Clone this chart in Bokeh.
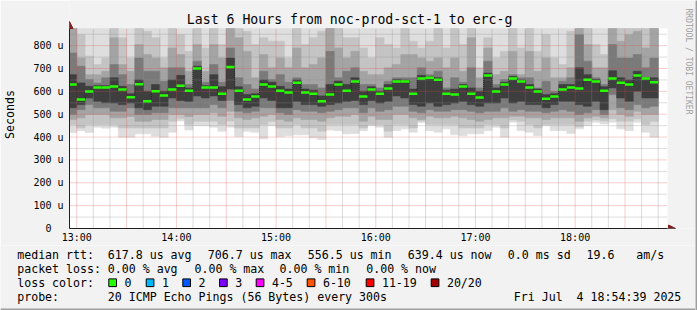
from datetime import datetime, timedelta, timezone
from math import pi

from bokeh.plotting import figure
from bokeh.layouts import column, row
from bokeh.models import Range1d, FixedTicker, Arrow, NormalHead, DatetimeTickFormatter
from bokeh.core.properties import value
from bokeh.embed import file_html
from bokeh.resources import INLINE

# ---------------- data ----------------
title_text = "Last 6 Hours from noc-prod-sct-1 to erc-g"
first_step = datetime(2025, 7, 4, 12, 55)      # start of the first 5-minute step
step_minutes = 5
hour_ticks = ["13:00", "14:00", "15:00", "16:00", "17:00", "18:00"]
y_ticks = [0, 100, 200, 300, 400, 500, 600, 700, 800]   # microseconds

median = [630, 564, 599, 617, 617, 621, 608, 574, 631, 557,
          600, 582, 608, 625, 603, 700, 617, 617, 590, 706.7,
          603, 564, 577, 630, 621, 603, 595, 638, 595, 590,
          556.5, 586, 630, 603, 643, 577, 608, 590, 612, 643,
          643, 590, 656, 660, 651, 590, 586, 621, 590, 573,
          669, 599, 630, 656, 643, 617, 599, 568, 577, 608,
          617, 612, 651, 643, 603, 656, 638, 630, 669, 656,
          639.4]

smoke_top = 900   # the slowest pings are above the top of the chart in every step

hi2 = [900, 848, 754, 717, 746, 900, 834, 746, 880, 863, 834, 746, 900, 848, 775, 900, 790, 880, 805, 900,
       880, 863, 805, 834, 819, 819, 746, 900, 805, 834, 863, 900, 880, 834, 834, 790, 746, 834, 805, 790,
       880, 819, 790, 819, 880, 790, 880, 805, 880, 703, 834, 746, 775, 880, 790, 880, 775, 848, 746, 717,
       863, 900, 880, 805, 761, 900, 900, 880, 880, 880, 880]
hi3 = [890, 746, 673, 673, 688, 834, 717, 688, 805, 761, 746, 703, 790, 761, 688, 805, 688, 805, 746, 900,
       834, 775, 659, 761, 703, 746, 703, 790, 703, 717, 746, 880, 790, 746, 775, 688, 673, 673, 703, 717,
       761, 761, 746, 732, 746, 703, 746, 688, 834, 659, 790, 673, 688, 775, 673, 775, 688, 746, 659, 659,
       703, 900, 805, 703, 703, 900, 819, 848, 863, 790, 880]
hi4 = [768, 710, 652, 637, 659, 717, 673, 630, 746, 688, 688, 644, 703, 703, 630, 732, 640, 717, 640, 790,
       659, 630, 610, 688, 652, 673, 640, 659, 630, 630, 615, 775, 659, 688, 703, 630, 630, 615, 644, 659,
       659, 659, 703, 673, 688, 615, 659, 640, 703, 615, 732, 630, 652, 673, 659, 659, 615, 644, 600, 644,
       659, 848, 732, 659, 630, 805, 746, 746, 761, 703, 746]
hi5 = [673, 637, 622, 625, 625, 659, 622, 590, 650, 600, 630, 600, 650, 670, 615, 710, 625, 673, 620, 746,
       620, 586, 590, 650, 640, 622, 610, 650, 610, 605, 580, 630, 645, 630, 659, 600, 620, 600, 630, 652,
       650, 610, 670, 665, 660, 605, 610, 630, 615, 600, 680, 615, 640, 665, 650, 630, 610, 586, 590, 630,
       630, 703, 673, 652, 620, 690, 659, 650, 688, 659, 659]
lo5 = [528, 542, 571, 557, 550, 549, 542, 549, 528, 520, 535, 535, 571, 560, 557, 580, 571, 580, 560, 610,
       542, 528, 535, 571, 560, 528, 528, 557, 542, 542, 535, 542, 549, 557, 560, 542, 560, 549, 557, 580,
       571, 542, 535, 549, 535, 542, 549, 557, 542, 535, 549, 549, 571, 549, 557, 542, 542, 528, 542, 557,
       557, 542, 535, 557, 520, 615, 571, 557, 600, 571, 571]
lo4 = [499, 520, 542, 528, 528, 513, 513, 528, 499, 499, 506, 506, 528, 528, 528, 528, 528, 542, 528, 560,
       513, 506, 513, 528, 528, 506, 499, 520, 513, 513, 506, 513, 520, 528, 528, 506, 528, 513, 520, 535,
       535, 513, 506, 520, 513, 513, 520, 520, 513, 506, 513, 513, 528, 513, 520, 513, 513, 506, 513, 520,
       513, 499, 506, 520, 499, 586, 528, 520, 542, 528, 535]
lo3 = [477, 484, 499, 499, 499, 484, 484, 490, 469, 469, 477, 477, 499, 499, 490, 499, 499, 506, 491, 513,
       484, 477, 484, 491, 499, 477, 469, 484, 477, 477, 469, 484, 491, 491, 499, 469, 491, 477, 477, 499,
       499, 484, 477, 491, 484, 484, 491, 484, 477, 469, 477, 484, 484, 491, 491, 484, 484, 477, 484, 484,
       484, 469, 484, 491, 484, 520, 499, 491, 513, 499, 499]
lo2 = [455, 440, 455, 455, 455, 455, 440, 440, 440, 440, 440, 440, 469, 480, 455, 469, 469, 469, 455, 470,
       440, 440, 440, 455, 469, 440, 440, 455, 440, 440, 426, 455, 455, 455, 455, 440, 455, 455, 426, 455,
       455, 440, 470, 455, 455, 455, 455, 440, 440, 440, 455, 455, 440, 475, 469, 455, 440, 455, 455, 455,
       455, 445, 469, 475, 470, 480, 469, 469, 480, 455, 469]
lo1 = [420, 428, 420, 443, 439, 443, 399, 399, 414, 414, 404, 399, 421, 470, 431, 450, 450, 443, 425, 443,
       402, 425, 421, 392, 450, 402, 406, 410, 410, 396, 389, 431, 428, 414, 416, 428, 450, 443, 399, 428,
       436, 421, 463, 428, 421, 436, 410, 406, 414, 414, 428, 443, 399, 465, 428, 421, 406, 450, 428, 428,
       416, 436, 450, 465, 457, 465, 436, 428, 465, 421, 399]

stat_median = ["617.8 us avg", "706.7 us max", "556.5 us min", "639.4 us now", "0.0 ms sd", "19.6", "am/s"]
stat_loss = ["0.00 % avg", "0.00 % max", "0.00 % min", "0.00 % now"]
loss_labels = ["0", "1", "2", "3", "4-5", "6-10", "11-19", "20/20"]
loss_colors = ["#26ff00", "#00b8ff", "#0059ff", "#7e00ff", "#ff00ff", "#ff5500", "#ff0000", "#a00000"]
probe_text = "20 ICMP Echo Pings (56 Bytes) every 300s"
stamp_text = "Fri Jul\u00a0 4 18:54:39 2025"

# ---------------- layout constants ----------------
W, H = 697, 310
EDGE = 2                                    # dark shade at the right / bottom
FL, FR, FT, FB = 67, 667, 28, 228          # chart canvas edges in pixels
MAIN_H = 245
Y_MAX = 875
FONT = "DejaVu Sans Mono"
BG = "#f2f2f2"


def ms(dt):
    return dt.replace(tzinfo=timezone.utc).timestamp() * 1000.0


X0 = ms(datetime(2025, 7, 4, 12, 55, 39))
X1 = X0 + 6 * 3600 * 1000.0


def px2x(px):
    return X0 + (px - FL) / (FR - FL) * (X1 - X0)


def py2y(py):
    return (FB - py) * Y_MAX / (FB - FT)


n = len(median)
col_start = [first_step + timedelta(minutes=step_minutes * i) for i in range(n)]
col_end = [t + timedelta(minutes=step_minutes) for t in col_start]

# ---------------- main chart ----------------
p = figure(width=W - EDGE, height=MAIN_H, output_backend="svg", toolbar_location=None,
           x_axis_type="datetime", x_range=Range1d(X0, px2x(W - EDGE)),
           y_range=Range1d(0, py2y(0)),
           min_border_left=FL, min_border_right=0, min_border_top=0,
           min_border_bottom=MAIN_H - FB)
p.background_fill_color = BG
p.border_fill_color = BG
p.outline_line_color = None
p.xgrid.visible = False
p.ygrid.visible = False

# white canvas
p.quad(left=[X0], right=[X1], bottom=[0], top=[Y_MAX], fill_color="#ffffff", line_color=None)

# smoke layers (outer = light, inner = dark)
layers = [([smoke_top] * n, lo1, "#dedede"), (hi2, lo2, "#c4c4c4"), (hi3, lo3, "#a4a4a4"),
          (hi4, lo4, "#7a7a7a"), (hi5, lo5, "#3e3e3e")]
for hi, lo, c in layers:
    p.quad(left=col_start, right=col_end, bottom=lo, top=[min(v, Y_MAX) for v in hi],
           fill_color=c, line_color=c, line_width=0.6)

# grid (dotted)
hour0 = datetime(2025, 7, 4, 13, 0)
v_minor = [ms(hour0 + timedelta(minutes=10 * k)) for k in range(-1, 36) if k % 3]
v_major = [ms(hour0 + timedelta(minutes=30 * k)) for k in range(0, 12)]
h_minor = [50 + 100 * k for k in range(9)]
h_major = y_ticks[1:]
for xs, c, a in [(v_minor, "#8f8f8f", 0.6), (v_major, "#de4f4f", 0.55)]:
    p.segment(x0=xs, x1=xs, y0=[0] * len(xs), y1=[Y_MAX] * len(xs),
              line_color=c, line_alpha=a, line_width=1, line_dash="1 1")
for ys, c, a in [(h_minor, "#8f8f8f", 0.6), (h_major, "#de4f4f", 0.55)]:
    p.segment(x0=[X0] * len(ys), x1=[X1] * len(ys), y0=ys, y1=ys,
              line_color=c, line_alpha=a, line_width=1, line_dash="1 1")

# median
p.step(x=col_start, y=median, mode="after", line_color="#202020", line_width=1, line_dash="1 1")
p.segment(x0=col_start, x1=col_end, y0=median, y1=median, line_color=loss_colors[0], line_width=2.5)

# axes
xa = p.xaxis[0]
xa.ticker = FixedTicker(ticks=[ms(hour0 + timedelta(hours=k)) for k in range(len(hour_ticks))])
fmt = "%H:%M"
xa.formatter = DatetimeTickFormatter(microseconds=fmt, milliseconds=fmt, seconds=fmt, minsec=fmt,
                                     minutes=fmt, hourmin=fmt, hours=fmt, days=fmt, months=fmt, years=fmt)
xa.bounds = (X0, X1)
xa.major_tick_out = 0
xa.major_tick_in = 0
xa.minor_tick_line_color = None
xa.axis_line_color = "#1f1f1f"
xa.major_label_standoff = 3
xa.major_label_text_font = FONT
xa.major_label_text_font_size = "10px"
xa.major_label_text_color = "#000000"

ya = p.yaxis[0]
ya.ticker = FixedTicker(ticks=y_ticks)
ya.bounds = (0, Y_MAX)
ya.major_label_overrides = {t: (f"{t} u" if t else "0\u00a0\u00a0") for t in y_ticks}
ya.major_tick_out = 0
ya.major_tick_in = 0
ya.minor_tick_line_color = None
ya.axis_line_color = "#1f1f1f"
ya.major_label_standoff = 6
ya.major_label_text_font = FONT
ya.major_label_text_font_size = "10px"
ya.major_label_text_color = "#000000"
ya.axis_label = "Seconds"
ya.axis_label_text_font = FONT
ya.axis_label_text_font_size = "11.6px"
ya.axis_label_text_font_style = "normal"
ya.axis_label_text_color = "#000000"
ya.axis_label_standoff = 13

# arrows at the ends of the axes
p.add_layout(Arrow(end=NormalHead(size=7, fill_color="#801f1f", line_color="#801f1f", line_width=1),
                   x_start=X1, y_start=0, x_end=px2x(FR + 8), y_end=0,
                   line_color="#1f1f1f", line_width=1))
p.add_layout(Arrow(end=NormalHead(size=7, fill_color="#801f1f", line_color="#801f1f", line_width=1),
                   x_start=X0, y_start=Y_MAX, x_end=X0, y_end=py2y(FT - 7),
                   line_color="#1f1f1f", line_width=1))

# title and watermark
p.text(x=[px2x(348)], y=[py2y(19)], text=[title_text], text_align="center", text_baseline="middle",
       text_font=value(FONT), text_font_size=value("13.2px"), text_color="#000000")
p.text(x=[px2x(687.5)], y=[py2y(61)], text=["RRDTOOL / TOBI OETIKER"], angle=-pi / 2,
       text_align="center", text_baseline="middle", text_font=value(FONT),
       text_font_size=value("8px"), text_color="#a0a0a0")

# ---------------- legend strip ----------------
q = figure(width=W - EDGE, height=H - MAIN_H, output_backend="svg", toolbar_location=None,
           x_range=Range1d(0, W - EDGE), y_range=Range1d(H, MAIN_H),
           x_axis_location=None, y_axis_location=None, min_border=0)
q.background_fill_color = BG
q.border_fill_color = BG
q.outline_line_color = None
q.xgrid.visible = False
q.ygrid.visible = False


def text(px, py, s):
    q.text(x=[px], y=[py], text=[s], text_align="left", text_baseline="middle",
           text_font=value(FONT), text_font_size=value("11.6px"), text_color="#000000")


text(16.7, 254, "median rtt:")
for xpos, s in zip([107.3, 207.3, 307.3, 407.3, 507.3, 586, 635.7], stat_median):
    text(xpos, 254, s)
text(16.7, 268.3, "packet loss:")
for xpos, s in zip([107.3, 194, 279, 365.7], stat_loss):
    text(xpos, 268.3, s)
text(16.7, 282.3, "loss color:")
box_left = [108.3, 145.7, 182.3, 219, 255.7, 306.7, 365.7, 430.7]
q.quad(left=box_left, right=[b + 7.7 for b in box_left], top=[278.4] * len(box_left),
       bottom=[286.1] * len(box_left), fill_color=loss_colors, line_color="#000000", line_width=1)
for bl, lab in zip(box_left, loss_labels):
    text(bl + 15.7, 282.3, lab)
text(16.7, 296, "probe:")
text(107.3, 296, probe_text)
text(513.3, 296, stamp_text)
# bottom shade
q.quad(left=[0], right=[W - EDGE], top=[H - EDGE], bottom=[H], fill_color="#9e9e9e", line_color=None)

# ---------------- right shade ----------------
e = figure(width=EDGE, height=H, output_backend="svg", toolbar_location=None,
           x_axis_location=None, y_axis_location=None, min_border=0,
           x_range=Range1d(0, 1), y_range=Range1d(0, 1))
e.background_fill_color = "#9e9e9e"
e.border_fill_color = "#9e9e9e"
e.outline_line_color = None
e.xgrid.visible = False
e.ygrid.visible = False

# each strip keeps its own frame (no frame alignment between the stacked figures)
for f in (p, q, e):
    try:
        f.frame_align = False
    except AttributeError:
        pass

page = row(column(p, q, spacing=0), e, spacing=0)
open("out.html", "w").write(file_html(page, INLINE))
